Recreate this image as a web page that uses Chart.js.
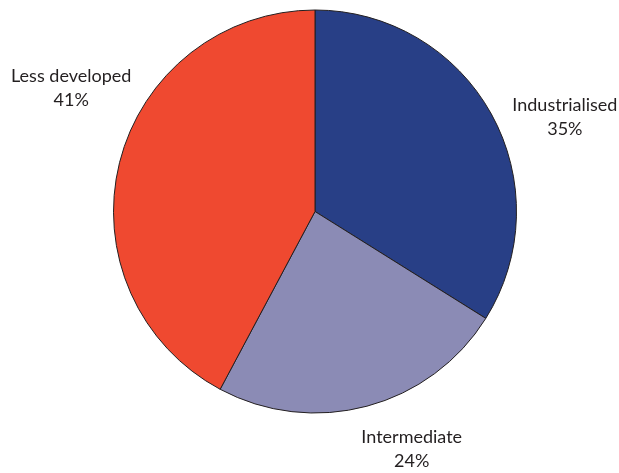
<!doctype html>
<html lang="en">
  <head>
    <meta charset="utf-8">
    <title>Pie</title>
    <script src="https://cdn.jsdelivr.net/npm/chart.js@4.4.0/dist/chart.umd.min.js"></script>
    <style>
      html, body { margin:0; padding:0; background:#fff; }
    </style>
  </head>
  <body>
    <canvas id="MiGrafica" width="619" height="473"></canvas>
  </body>

  <script>

    let categorias = ['Industrialised','Intermediate','Less developed'];
    let porcentajes = [33.9,23.9,42.2];
    let textoPct = ['35%','24%','41%'];
    let colores = ['#283f86','#8b8bb5','#ef4930'];

    // where each label sits, relative to the pie centre, in radius units
    let posEtiquetas = [[1.24,-0.47],[0.48,1.18],[-1.21,-0.61]];

    const etiquetasPlugin = {
      id: 'etiquetas',
      afterDraw(chart){
        let ctx = chart.ctx;
        let arcs = chart.getDatasetMeta(0).data;
        ctx.save();
        ctx.fillStyle = '#231f20';
        ctx.font = '18px Lato, "Open Sans", sans-serif';
        ctx.textAlign = 'center';
        ctx.textBaseline = 'middle';
        arcs.forEach((arc,i) => {
          let r = arc.outerRadius;
          let x = arc.x + posEtiquetas[i][0]*r;
          let y = arc.y + posEtiquetas[i][1]*r;
          ctx.fillText(categorias[i], x, y - 12);
          ctx.fillText(textoPct[i], x, y + 12);
        });
        ctx.restore();
      }
    };

    let canvas = document.getElementById("MiGrafica").getContext("2d");

    var chart = new Chart(canvas,{
      type: "pie",
      data:{
        labels: categorias,
        datasets:[
          {
            data: porcentajes,
            backgroundColor: colores,
            borderColor: '#231f20',
            borderWidth: 1
          }
        ]
      },
      options:{
        responsive:false,
        animation:false,
        layout:{ padding:{ top:9, bottom:59, left:113, right:102 } },
        plugins:{ legend:{ display:false }, tooltip:{ enabled:false } }
      },
      plugins:[etiquetasPlugin]
    })

  </script>

</html>
